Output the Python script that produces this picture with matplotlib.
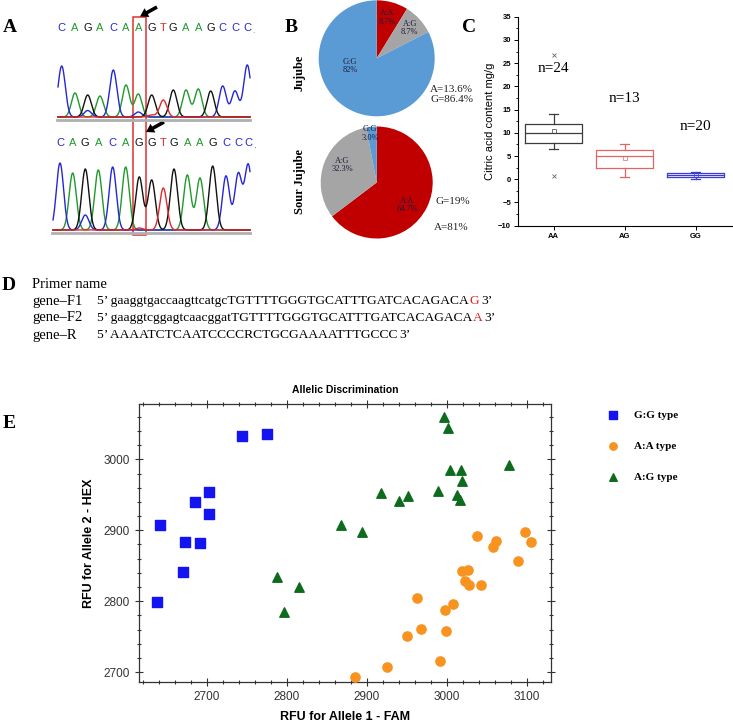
import numpy as np
import matplotlib
matplotlib.use('Agg')
import matplotlib.pyplot as plt
from matplotlib.patches import Rectangle, FancyArrow
from matplotlib.ticker import MultipleLocator

W, H = 733, 724
SERIF = ['Liberation Serif', 'DejaVu Serif']
SANS = ['Liberation Sans', 'DejaVu Sans']
NARROW = ['Liberation Sans Narrow', 'Liberation Sans', 'DejaVu Sans']

# ---- A: Sanger traces, base calls and peak heights
top_bases = list('CAGACAAGTGAAGCCC')
top_peak_x = [61.7, 75, 87.7, 100, 113.3, 126, 138.3, 151.7, 163.3, 173.3, 186, 198.3, 210.7, 222.7, 235, 247.3]
top_peak_h = [51, 24, 22, 21, 47, 32, 23, 22, 17, 27, 27, 28, 26, 31, 26, 52]
bot_bases = list('CAGACAGGTGAAGCCC')
bot_peak_x = [60, 72.7, 85.3, 98.3, 112.7, 125.7, 139.3, 151.7, 163.3, 174, 187.3, 200, 212.7, 226, 238.3, 248.3]
bot_peak_h = [67, 57, 61, 60, 63, 63, 53, 50, 42, 61, 55, 52, 64, 54, 56, 65]
# small secondary peaks (base, position, height)
top_minor = [('C', 87.7, 6.5), ('C', 138.3, 5), ('T', 151.7, 2)]
bot_minor = [('C', 85.3, 15), ('T', 139.3, 2)]

# ---- B: genotype shares
pie_labels = ['A:A', 'A:G', 'G:G']
jujube_pct = [8.7, 8.7, 82.0]
jujube_txt = ['8.7%', '8.7%', '82%']
sour_pct = [64.7, 32.3, 3.0]
sour_txt = ['64.7%', '32.3%', '3.0%']
jujube_freq = ['A=13.6%', 'G=86.4%']
sour_freq = ['G=19%', 'A=81%']

# ---- C: citric acid box plot
geno = ['AA', 'AG', 'GG']
n_counts = [24, 13, 20]
q1 = [7.7, 2.5, 0.5]
med = [9.9, 5.0, 0.9]
q3 = [11.9, 6.3, 1.4]
whislo = [6.5, 0.4, 0.0]
whishi = [14.0, 7.5, 1.6]
means = [10.4, 4.5, 1.0]
fliers = [[26.8, 0.7], [], []]

# ---- D: primers
primer_names = ['gene\u2013F1', 'gene\u2013F2', 'gene\u2013R']
primer_tail = ['gaaggtgaccaagttcatgc', 'gaaggtcggagtcaacggat', '']
primer_core = ['TGTTTTGGGTGCATTTGATCACAGACA', 'TGTTTTGGGTGCATTTGATCACAGACA', 'AAAATCTCAATCCCCRCTGCGAAAATTTGCCC']
primer_snp = ['G', 'A', '']

# ---- E: KASP allelic discrimination
gg_fam = [2744, 2775, 2703, 2685, 2702, 2641, 2673, 2691, 2670, 2638]
gg_hex = [3033, 3036, 2954, 2940, 2923, 2907, 2884, 2882, 2841, 2799]
aa_fam = [2885, 2925, 2950, 2968, 2962, 2991, 2998, 2999, 3007, 3019,
          3026, 3023, 3028, 3042, 3038, 3058, 3061, 3089, 3098, 3105]
aa_hex = [2693, 2707, 2751, 2761, 2804, 2716, 2788, 2758, 2796, 2842,
          2844, 2828, 2823, 2823, 2892, 2877, 2885, 2856, 2897, 2883]
ag_fam = [2787, 2815, 2796, 2867, 2894, 2917, 2940, 2951, 2989, 2996,
          3001, 3004, 3017, 3019, 3012, 3016, 3077]
ag_hex = [2834, 2820, 2785, 2907, 2898, 2953, 2941, 2948, 2956, 3059,
          3044, 2985, 2985, 2969, 2949, 2942, 2992]

BASE_COL = {'A': '#1f9a2a', 'C': '#2626d4', 'G': '#111111', 'T': '#e4262a'}

fig = plt.figure(figsize=(W / 100, H / 100), dpi=100)
ov = fig.add_axes([0, 0, 1, 1])
ov.set_xlim(0, W)
ov.set_ylim(H, 0)
ov.axis('off')


def px_axes(l, t, r, b):
    return fig.add_axes([l / W, 1 - b / H, (r - l) / W, (b - t) / H])


# panel letters
for lab, x, y in [('A', 10, 28), ('B', 291, 27), ('C', 469, 27), ('D', 9, 285), ('E', 9, 424)]:
    ov.text(x, y, lab, fontsize=14, fontweight='bold', family=SERIF, ha='center', va='center')

# ---------------- A
def trace(peak_x, peak_h, bases, minor, base_y, x0, x1):
    xs = np.linspace(x0, x1, 900)
    sig = 3.6
    for b in 'ACGT':
        ys = np.zeros_like(xs)
        for px, ph, bb in zip(peak_x, peak_h, bases):
            if bb == b:
                ys += ph * np.exp(-(xs - px) ** 2 / (2 * sig ** 2))
        for bb, px, ph in minor:
            if bb == b:
                ys += ph * np.exp(-(xs - px) ** 2 / (2 * sig ** 2))
        ov.plot(xs, base_y - ys, color=BASE_COL[b], lw=1.0)
    ov.plot([x0 - 1, 250], [base_y + 2.5, base_y + 2.5], color='#b0b0b0', lw=2)

trace(top_peak_x, top_peak_h, top_bases, top_minor, 117, 58, 250)
trace(bot_peak_x, bot_peak_h, bot_bases, bot_minor, 230, 53, 250)
for px, b in zip(top_peak_x, top_bases):
    ov.text(px, 28, b, color=BASE_COL[b], fontsize=8, family=SANS, ha='center', va='center')
for px, b in zip(bot_peak_x, bot_bases):
    ov.text(px, 143, b, color=BASE_COL[b], fontsize=8, family=SANS, ha='center', va='center')
ov.text(top_peak_x[-1] + 5, 30, '.', color='#b0a020', fontsize=7, family=SANS, va='center')
ov.text(bot_peak_x[-1] + 5, 145, '.', color='#2626d4', fontsize=7, family=SANS, va='center')
ov.add_patch(Rectangle((132.7, 17.3), 13, 217.7, fill=False, edgecolor='#e03030', lw=1.1))
for (xa, ya, xb, yb) in [(157, 7, 140, 16.5), (164, 122, 146, 132)]:
    ov.add_patch(FancyArrow(xa, ya, xb - xa, yb - ya, width=3.6, head_width=10,
                            head_length=8, length_includes_head=True,
                            color='black', lw=0))

# ---------------- B
PIE_COLORS = ['#c00000', '#a5a5a5', '#5b9bd5']


def pie(ax, vals, txts, spots):
    ax.pie(vals, colors=PIE_COLORS, startangle=90, counterclock=False, radius=1)
    for lab, t, (x, y) in zip(pie_labels, txts, spots):
        ax.text(x, y, lab + '\n' + t, ha='center', va='center', fontsize=6,
                family=SERIF, color='#1c1c3c', linespacing=1.1)
    ax.set_xlim(-1, 1)
    ax.set_ylim(-1, 1)
    ax.set_aspect('equal')
    ax.axis('off')


pie(px_axes(318.7, 0.3, 434.7, 116.3), jujube_pct, jujube_txt,
    [(0.18, 0.70), (0.57, 0.52), (-0.46, -0.13)])
pie(px_axes(320.7, 126.5, 432.7, 238.5), sour_pct, sour_txt,
    [(0.54, -0.40), (-0.62, 0.31), (-0.12, 0.88)])
ov.text(300, 73, 'Jujube', rotation=90, fontsize=9, fontweight='bold', family=SERIF,
        ha='center', va='center')
ov.text(300, 182, 'Sour Jujube', rotation=90, fontsize=9, fontweight='bold', family=SERIF,
        ha='center', va='center')
for t, (x, y) in zip(jujube_freq + sour_freq, [(451, 89), (452, 100), (453, 202), (451, 227)]):
    ov.text(x, y, t, fontsize=8, family=SERIF, ha='center', va='center', color='#222222')

# ---------------- C
axc = px_axes(518, 16.7, 732, 225.7)
for i in range(3):
    st = dict(med=med[i], q1=q1[i], q3=q3[i], whislo=whislo[i], whishi=whishi[i],
              mean=means[i], fliers=fliers[i])
    c = ['#3c3c3c', '#e06666', '#3b3bd6'][i]
    axc.bxp([st], positions=[i + 1], widths=0.8, showmeans=True, capwidths=[0.12],
            boxprops=dict(color=c, lw=0.9), medianprops=dict(color=c, lw=0.9),
            whiskerprops=dict(color=c, lw=0.9), capprops=dict(color=c, lw=0.9),
            meanprops=dict(marker='s', markersize=2.5, markerfacecolor='none',
                           markeredgecolor=c, markeredgewidth=0.5),
            flierprops=dict(marker='x', markersize=2.5, markeredgecolor='#666666',
                            markeredgewidth=0.6))
    axc.text(i + 1, whishi[i] + 9.8, f'n={n_counts[i]}', fontsize=11, family=SERIF,
             ha='center', va='center')
axc.set_xlim(0.5, 3.51)
axc.set_ylim(-10, 35)
axc.set_xticks([1, 2, 3])
axc.set_xticklabels(geno)
axc.yaxis.set_major_locator(MultipleLocator(5))
axc.yaxis.set_minor_locator(MultipleLocator(2.5))
axc.tick_params(axis='both', which='major', labelsize=5.5, length=3, width=0.7, pad=2)
axc.tick_params(axis='y', which='minor', length=1.8, width=0.6)
for lab in axc.get_xticklabels() + axc.get_yticklabels():
    lab.set_fontweight('bold')
    lab.set_family(SANS)
axc.spines['top'].set_visible(False)
axc.spines['right'].set_visible(False)
for s in ('left', 'bottom'):
    axc.spines[s].set_linewidth(0.8)
axc.set_ylabel('Citric acid content mg/g', fontsize=8, family=NARROW, labelpad=2)

# ---------------- D
rend = fig.canvas.get_renderer()
FS_D = 9.7


def width_of(s):
    t = ov.text(0, 0, s, fontsize=FS_D, family=SERIF)
    w = t.get_window_extent(renderer=rend).width
    t.remove()
    return w


ov.text(32, 284, 'Primer name', fontsize=10.5, family=SERIF, va='center')
for k in range(3):
    y = 301 + 17 * k
    x0 = 97
    ov.text(32, y, primer_names[k], fontsize=10.5, family=SERIF, va='center')
    body = '5\u2019 ' + primer_tail[k] + primer_core[k]
    ov.text(x0, y, body, fontsize=FS_D, family=SERIF, va='center')
    x = x0 + width_of(body)
    if primer_snp[k]:
        ov.text(x + 0.5, y, primer_snp[k], fontsize=FS_D, family=SERIF, va='center', color='#e02020')
        x = x0 + width_of(body + primer_snp[k]) + 2.5
    else:
        x += 1.5
    ov.text(x, y, '3\u2019', fontsize=FS_D, family=SERIF, va='center')

# ---------------- E
axe = px_axes(139, 404, 551, 682)
axe.scatter(gg_fam, gg_hex, marker='s', s=44, color='#1414f0', label='G:G type', zorder=3)
axe.scatter(aa_fam, aa_hex, marker='o', s=44, color='#f7931e', label='A:A type', zorder=3)
axe.scatter(ag_fam, ag_hex, marker='^', s=46, color='#0e6b1e', label='A:G type', zorder=3)
axe.set_xlim(2615, 3130)
axe.set_ylim(2686, 3078)
axe.xaxis.set_major_locator(MultipleLocator(100))
axe.xaxis.set_minor_locator(MultipleLocator(20))
axe.yaxis.set_major_locator(MultipleLocator(100))
axe.yaxis.set_minor_locator(MultipleLocator(20))
axe.tick_params(which='both', top=True, right=True, direction='inout', width=0.8,
                color='#333333', labelsize=8.5, labelcolor='#333333')
axe.tick_params(which='major', length=6)
axe.tick_params(which='minor', length=3.5)
for lab in axe.get_xticklabels() + axe.get_yticklabels():
    lab.set_family(NARROW)
for s in axe.spines.values():
    s.set_color('#333333')
    s.set_linewidth(0.9)
axe.set_title('Allelic Discrimination', fontsize=7.5, fontweight='bold', family=SANS, pad=8)
axe.set_xlabel('RFU for Allele 1 - FAM', fontsize=9, fontweight='bold', family=SANS, labelpad=6)
axe.set_ylabel('RFU for Allele 2 - HEX', fontsize=9, fontweight='bold', family=SANS, labelpad=6)
leg = axe.legend(loc='upper left', bbox_to_anchor=(592 / W, 1 - 400 / H),
                 bbox_transform=fig.transFigure, frameon=False, fontsize=8,
                 labelspacing=1.9, handletextpad=0.9, scatterpoints=1, markerscale=0.8)
for t in leg.get_texts():
    t.set_family(SERIF)
    t.set_fontweight('bold')

fig.savefig('out.png', dpi=100)
